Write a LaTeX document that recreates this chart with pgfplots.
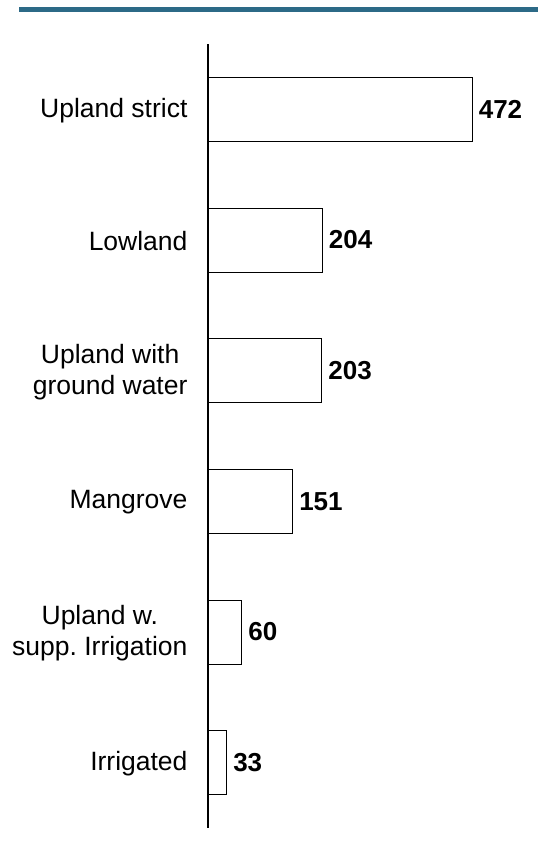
\documentclass[border=0pt]{standalone}
\usepackage{fontspec}
\setmainfont{Liberation Sans}
\usepackage{pgfplots}
\pgfplotsset{compat=1.18}
\definecolor{titleblue}{HTML}{2C6A87}
\frenchspacing

\begin{document}
\begin{tikzpicture}[x=1pt,y=1pt]
\path[use as bounding box] (0,0) rectangle (538,853);
\draw[titleblue, line width=4.5pt] (19,843.7) -- (538,843.7);
\begin{axis}[
  at={(208pt,25pt)}, anchor=south west,
  scale only axis,
  width=330pt, height=784pt,
  xmin=0, xmax=590,
  ymin=-0.5, ymax=5.5,
  y dir=reverse,
  xbar,
  bar width=64pt,
  axis x line=none,
  axis y line*=left,
  axis line style={line width=1.5pt, -},
  ytick={0,1,2,3,4,5},
  yticklabels={Upland strict,Lowland,{Upland with\\ground water},Mangrove,{Upland w.\\supp. Irrigation},Irrigated},
  yticklabel style={align=center, font=\fontsize{26.5}{31}\selectfont, xshift=-17pt, yshift=-1pt},
  major tick length=0pt,
  clip=false,
  /pgf/number format/assume math mode=true,
  nodes near coords,
  nodes near coords style={font=\fontsize{26}{31}\selectfont\bfseries, anchor=west, xshift=3pt},
]
\addplot[draw=black, fill=white, line width=1pt] coordinates {
  (472,0) (204,1) (203,2) (151,3) (60,4) (33,5)};
\end{axis}
\end{tikzpicture}
\end{document}
